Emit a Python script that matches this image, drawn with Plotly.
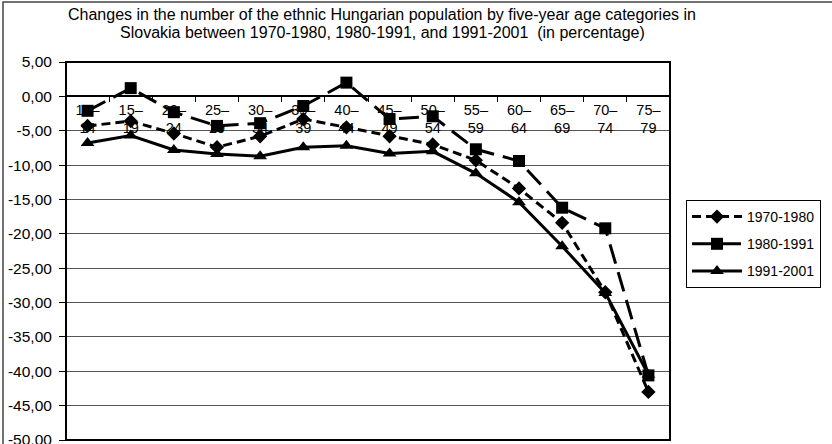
import plotly.graph_objects as go

categories = ["10–<br>14", "15–<br>19", "20–<br>24", "25–<br>29", "30–<br>34", "35–<br>39", "40–<br>44",
              "45–<br>49", "50–<br>54", "55–<br>59", "60–<br>64", "65–<br>69", "70–<br>74", "75–<br>79"]
s1970 = [-4.3, -3.6, -5.4, -7.4, -5.8, -3.3, -4.5, -5.8, -7.0, -9.3, -13.4, -18.4, -28.5, -43.0]
s1980 = [-2.1, 1.2, -2.3, -4.3, -3.9, -1.4, 2.0, -3.3, -2.9, -7.7, -9.4, -16.2, -19.2, -40.6]
s1991 = [-6.8, -5.7, -7.8, -8.4, -8.7, -7.4, -7.2, -8.3, -8.0, -11.2, -15.4, -21.8, -28.6, -40.5]
series_names = ["1970-1980", "1980-1991", "1991-2001"]
ytickvals = [5, 0, -5, -10, -15, -20, -25, -30, -35, -40, -45, -50]
yticktext = ["5,00", "0,00", "-5,00", "-10,00", "-15,00", "-20,00", "-25,00", "-30,00",
             "-35,00", "-40,00", "-45,00", "-50,00"]
title_lines = ["Changes in the number of the ethnic Hungarian population by five-year age categories in",
               "Slovakia between 1970-1980, 1980-1991, and 1991-2001  (in percentage)"]

W, H = 832, 444
L, R, T, B = 66, 162, 62, 4
pw, ph = W - L - R, H - T - B
font = "Liberation Sans, Arial, sans-serif"

fig = go.Figure()
fig.add_trace(go.Scatter(x=categories, y=s1970, name=series_names[0], mode="lines+markers",
                         legendgroup="a",
                         line=dict(color="black", width=3, dash="9px,5px"),
                         marker=dict(symbol="diamond", size=11, color="black")))
fig.add_trace(go.Scatter(x=categories, y=s1980, name=series_names[1], mode="lines+markers",
                         legendgroup="b",
                         line=dict(color="black", width=3, dash="20px,9px"),
                         marker=dict(symbol="square", size=12, color="black")))
fig.add_trace(go.Scatter(x=categories, y=s1991, name=series_names[2], mode="lines+markers",
                         legendgroup="c",
                         line=dict(color="black", width=3),
                         marker=dict(symbol="triangle-up", size=12, color="black")))

zero_pos = (0 - (-50)) / 55.0

annotations = []
for i, line in enumerate(title_lines):
    annotations.append(dict(text=line, xref="paper", yref="paper",
                            x=(382 - L) / pw, y=1 + (T - (15 + 18 * i)) / ph,
                            xanchor="center", yanchor="middle", showarrow=False,
                            font=dict(family=font, size=16, color="black")))

fig.update_layout(
    width=W, height=H,
    margin=dict(l=L, r=R, t=T, b=B, autoexpand=False),
    paper_bgcolor="white", plot_bgcolor="white",
    font=dict(family=font, size=14, color="black"),
    annotations=annotations,
    xaxis=dict(type="category", anchor="free", position=zero_pos,
               showline=True, linecolor="black", linewidth=1.5,
               ticks="outside", tickson="boundaries", ticklen=5, tickcolor="black",
               showgrid=False, range=[-0.5, 13.5], automargin=False,
               tickfont=dict(family=font, size=14.5, color="black")),
    yaxis=dict(range=[-50, 5], tickvals=ytickvals, ticktext=yticktext,
               showgrid=True, gridcolor="#555555", gridwidth=1,
               zeroline=False, automargin=False,
               showline=False, ticks="outside", ticklen=6, tickcolor="black",
               ticklabelstandoff=4, ticklabeloverflow="allow",
               tickfont=dict(family=font, size=15.5, color="black")),
    legend=dict(x=(686 - L) / pw, y=(H - B - 200) / ph, xanchor="left", yanchor="top",
                bordercolor="black", borderwidth=1, bgcolor="white", itemwidth=50,
                tracegroupgap=6, font=dict(family=font, size=14, color="black")),
    shapes=[
        dict(type="rect", xref="paper", yref="paper", x0=0, x1=1, y0=0, y1=1,
             line=dict(color="black", width=2), layer="above"),
        dict(type="rect", xref="paper", yref="paper",
             x0=-(L - 3) / pw, x1=(W - L + 5) / pw, y0=-(B + 5) / ph, y1=1 + (T - 2) / ph,
             line=dict(color="#444444", width=1.5), layer="above"),
    ],
)

fig.write_html("out.html", config={"displayModeBar": False},
               post_script="document.body.style.margin='0';")
